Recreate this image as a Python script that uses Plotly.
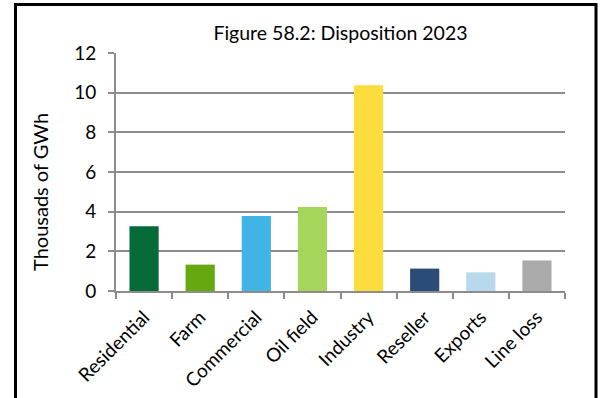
import plotly.graph_objects as go

categories = ["Residential", "Farm", "Commercial", "Oil field", "Industry", "Reseller", "Exports", "Line loss"]
values = [3.27, 1.33, 3.78, 4.24, 10.37, 1.13, 0.94, 1.54]
colors = ["#046B38", "#66A80F", "#41B4E6", "#A5D65B", "#FCDD3E", "#2C4C78", "#B8D8EB", "#AAAAAA"]
y_ticks = [0, 2, 4, 6, 8, 10, 12]

FONT = "Lato"

fig = go.Figure(go.Bar(x=categories, y=values, marker=dict(color=colors, line=dict(width=0)), width=0.52))

fig.update_layout(
    width=602, height=398,
    margin=dict(l=116, r=37, t=53, b=107, autoexpand=False),
    paper_bgcolor="white", plot_bgcolor="white",
    showlegend=False,
    font=dict(family=FONT, color="#000000"),
    title=dict(text="Figure 58.2: Disposition 2023", xref="paper", x=0.5, xanchor="center",
               y=1 - 33 / 398, yanchor="middle", font=dict(size=19.5, family=FONT, color="#000")),
    bargap=0.48,
)
fig.update_xaxes(
    tickangle=-45, tickfont=dict(size=19, family=FONT, color="#000"),
    showline=True, linecolor="#8c8c8c", linewidth=1.5,
    ticks="outside", tickson="boundaries", ticklen=6, tickcolor="#8c8c8c", tickwidth=1.5,
    ticklabelstandoff=6,
    showgrid=False, automargin=False,
)
fig.update_yaxes(
    range=[0, 12], tickvals=y_ticks, tickfont=dict(size=19, family=FONT, color="#000"),
    showgrid=True, gridcolor="#8c8c8c", gridwidth=1.6,
    showline=True, linecolor="#8c8c8c", linewidth=1.6,
    ticks="outside", ticklen=6, tickcolor="#8c8c8c", tickwidth=1.6,
    ticklabelstandoff=8,
    zeroline=False, automargin=False,
)
fig.add_annotation(text="Thousads of GWh", xref="paper", yref="paper",
                   x=(40 - 116) / 449, y=(291 - 192) / 238, textangle=-90,
                   showarrow=False, xanchor="center", yanchor="middle",
                   font=dict(size=20, family=FONT, color="#000"))
fig.add_shape(type="rect", xref="paper", yref="paper",
              x0=(15.5 - 116) / 449, x1=(596 - 116) / 449,
              y0=-0.6, y1=(291 - 4.5) / 238,
              line=dict(color="black", width=3), fillcolor="rgba(0,0,0,0)", layer="above")

fig.write_html("out.html", config={"displayModeBar": False},
               post_script="document.body.style.margin='0';document.body.style.padding='0';")
